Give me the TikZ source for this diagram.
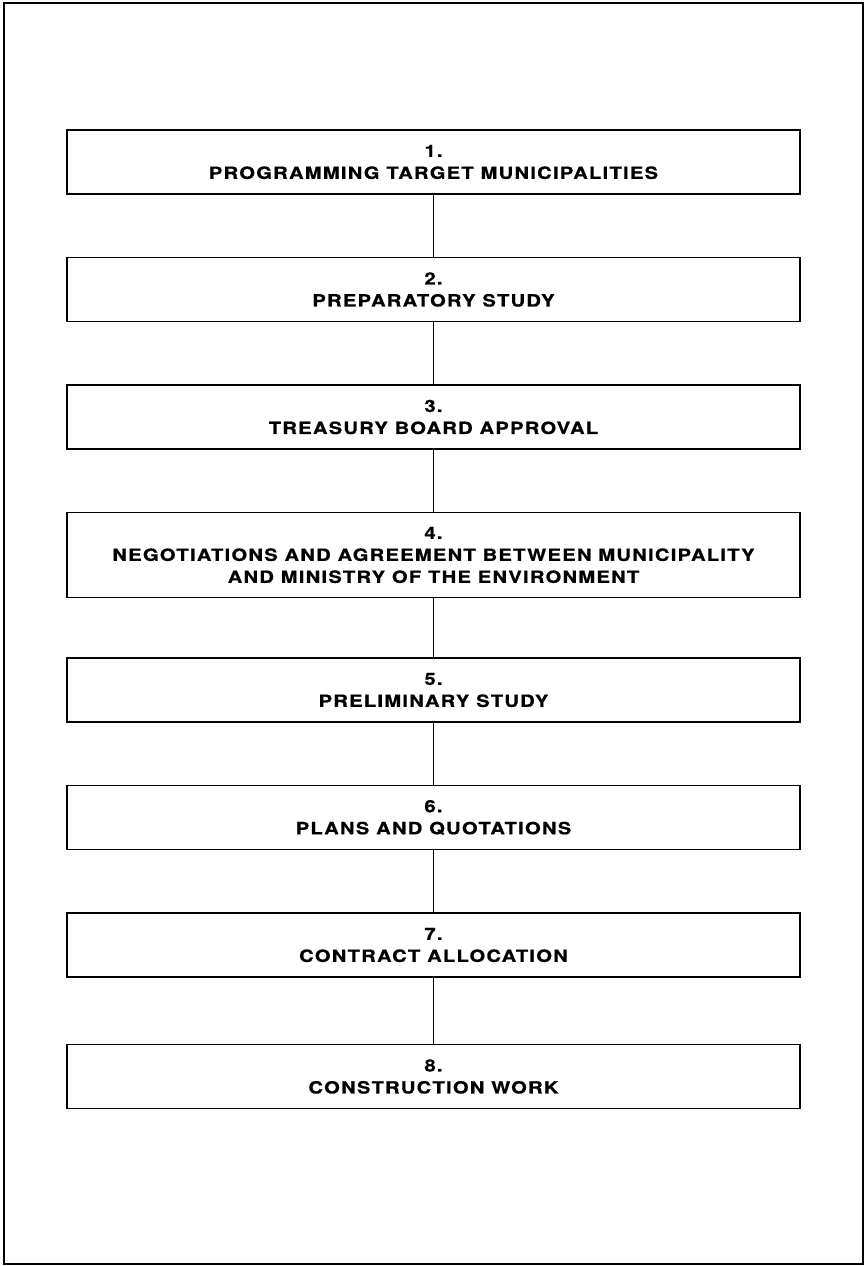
\documentclass[tikz,border=0pt]{standalone}
\usepackage{fontspec}
\setmainfont{TeX Gyre Heros}
\newfontfamily\stagefont[FakeStretch=1.2, LetterSpace=7.5, FakeBold=0.8]{TeX Gyre Heros}
\usetikzlibrary{positioning}
\tikzset{
  stage/.style={draw, line width=0.75pt, minimum width=366.5pt, minimum height=32pt, align=center,
    font=\stagefont\fontsize{8.4}{11}\selectfont\bfseries, inner sep=2pt,
    execute at begin node=\rule{0pt}{8.5pt}},
  stagetall/.style={stage, minimum height=42.5pt, execute at begin node={}},
  link/.style={draw, line width=0.5pt},
  frame/.style={draw, line width=1pt},
}
\begin{document}
\begin{tikzpicture}[x=0.5pt, y=-0.5pt, node distance=31pt]
\useasboundingbox (0,0) rectangle (866,1266);
\draw[frame] (4,3) rectangle (863,1264);

\node[stage, execute at begin node=\rule{0pt}{12pt}] (s1) at (433.5,162) {1.\\PROGRAMMING TARGET MUNICIPALITIES};
\node[stage, below=of s1] (s2) {2.\\PREPARATORY STUDY};
\node[stage, below=of s2] (s3) {3.\\TREASURY BOARD APPROVAL};
\node[stagetall, below=of s3] (s4) {4.\\NEGOTIATIONS AND AGREEMENT BETWEEN MUNICIPALITY\\AND MINISTRY OF THE ENVIRONMENT};
\node[stage, below=29.5pt of s4] (s5) {5.\\PRELIMINARY STUDY};
\node[stage, below=of s5] (s6) {6.\\PLANS AND QUOTATIONS};
\node[stage, below=of s6] (s7) {7.\\CONTRACT ALLOCATION};
\node[stage, below=33pt of s7] (s8) {8.\\CONSTRUCTION WORK};

\foreach \a/\b in {s1/s2, s2/s3, s3/s4, s4/s5, s5/s6, s6/s7, s7/s8}
  \draw[link] (\a) -- (\b);
\end{tikzpicture}
\end{document}
